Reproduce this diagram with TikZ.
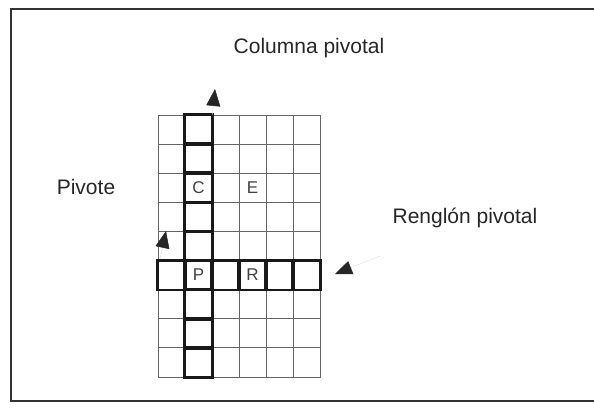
\documentclass[tikz,border=0pt]{standalone}
\usepackage{fontspec}
\setmainfont{Liberation Sans}
\usetikzlibrary{positioning,arrows.meta}

\begin{document}
\begin{tikzpicture}[
  x=1pt, y=-1pt,
  cell/.style  = {draw=black!60, line width=0.8pt, minimum width=27pt, minimum height=29.1pt, inner sep=0pt},
  entry/.style = {inner sep=0pt, font=\fontsize{17}{19}\selectfont, text=black!75},
  hot/.style   = {draw=black!90, line width=2.8pt},
  lab/.style   = {font=\fontsize{21}{25}\selectfont, text=black!85},
  tip/.style   = {-{Triangle[length=17pt, width=14pt, color=black!85]}, line width=0.5pt, draw=black!12},
  frame/.style = {line width=1.7pt, draw=black!80}
]
\useasboundingbox (0,0) rectangle (594,407);

% ================= Frame =================
\draw[frame] (600,9) -- (11,9) -- (11,401) -- (600,401);

% ================= Grid (6 x 9) =================
\foreach \i in {0,...,5}
  \foreach \j in {0,...,8}
    \node[cell] (c-\i-\j) at (171.5+27*\i, 129.55+29.1*\j) {};

% pivot column and pivot row
\foreach \j in {0,...,8}
  \draw[hot] (c-1-\j.north west) rectangle (c-1-\j.south east);
\foreach \i in {0,...,5}
  \draw[hot] (c-\i-5.north west) rectangle (c-\i-5.south east);

% ================= Entries =================
\node[entry] (C) at (c-1-2) {C};
\node[entry] (E) at (c-3-2) {E};
\node[entry] (P) at (c-1-5) {P};
\node[entry] (R) at (c-3-5) {R};

% ================= Labels and arrows =================
\node[lab] (colLab) at (309,48)  {Columna pivotal};
\node[lab] (pivLab) at (86,187)  {Pivote};
\node[lab] (rowLab) at (465,218) {Renglón pivotal};

\coordinate (colTip)  at (215,89);
\coordinate (pivFoot) at (160,259);
\coordinate (pivTip)  at (166,231);
\coordinate (rowFoot) at (380,256);
\coordinate (rowTip)  at (335,274);

\draw[tip] (c-1-0.north east) -- (colTip);
\draw[tip] (pivFoot) -- (pivTip);
\draw[tip] (rowFoot) -- (rowTip);

\end{tikzpicture}
\end{document}
